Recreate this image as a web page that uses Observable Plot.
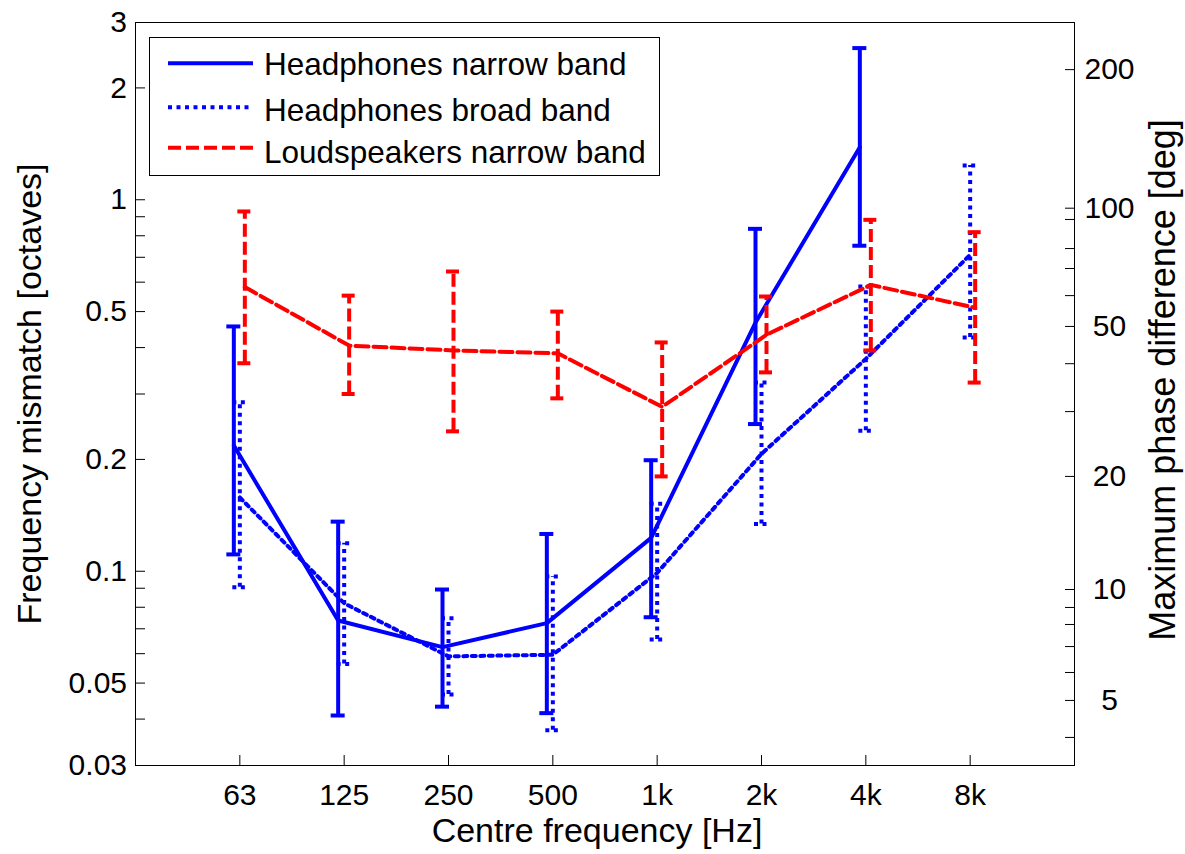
<!DOCTYPE html>
<html><head><meta charset="utf-8">
<script src="https://cdn.jsdelivr.net/npm/d3@7"></script>
<script src="https://cdn.jsdelivr.net/npm/@observablehq/plot@0.6"></script>
<style>
html,body{margin:0;padding:0;background:#fff;}
#wrap{position:relative;width:1185px;height:854px;font-family:"Liberation Sans",Arial,sans-serif;}
#legend{position:absolute;left:149px;top:37px;width:511px;height:139px;box-sizing:border-box;border:1px solid #000;background:#fff;}
</style></head><body><div id="wrap"></div>
<script>
// Categories (centre frequencies)
const freqLabels = ["63", "125", "250", "500", "1k", "2k", "4k", "8k"];

// Headphones narrow band (solid blue)
const hpNarrow   = [0.218, 0.0737, 0.0625, 0.0725, 0.123, 0.467, 1.385, null];
const hpNarrowLo = [0.111, 0.0409, 0.0432, 0.0415, 0.0752, 0.249, 0.752, null];
const hpNarrowHi = [0.456, 0.136, 0.0893, 0.126, 0.199, 0.835, 2.56, null];

// Headphones broad band (dotted blue)
const hpBroad   = [0.158, 0.082, 0.059, 0.0596, 0.099, 0.207, 0.373, 0.711];
const hpBroadLo = [0.0906, 0.0563, 0.0466, 0.0373, 0.0655, 0.134, 0.239, 0.426];
const hpBroadHi = [0.285, 0.119, 0.0747, 0.0968, 0.152, 0.322, 0.584, 1.237];

// Loudspeakers narrow band (dashed red)
const lsNarrow   = [0.582, 0.405, 0.393, 0.386, 0.277, 0.433, 0.590, 0.512];
const lsNarrowLo = [0.363, 0.300, 0.238, 0.292, 0.180, 0.343, 0.393, 0.322];
const lsNarrowHi = [0.930, 0.552, 0.641, 0.500, 0.413, 0.549, 0.883, 0.818];

// Left axis ticks (octaves)
const yMajorTicks = [0.03, 0.05, 0.1, 0.2, 0.5, 1, 2, 3];
const yMinorTicks = [0.04, 0.06, 0.07, 0.08, 0.09, 0.3, 0.4, 0.6, 0.7, 0.8, 0.9];

// Right axis ticks: phase labels [deg] and their position on the octave scale
const phaseLabels       = [5, 10, 20, 50, 100, 200];
const phaseTickOctaves  = [0.0449, 0.0893, 0.18, 0.456, 0.949, 2.24];
const phaseMinorOctaves = [0.0357, 0.0534, 0.0627, 0.0719, 0.0799, 0.269, 0.362, 0.552, 0.653, 0.739, 0.885];

const seriesNames = ["Headphones narrow band", "Headphones broad band", "Loudspeakers narrow band"];

// ---- layout / style ----
const W = 1185, H = 854, mL = 135, mR = 111, mT = 22, mB = 89;
const xDomain = [-1, 8];
const pxPerIdx = (W - mL - mR) / (xDomain[1] - xDomain[0]);
const capHalf = 7 / pxPerIdx;
const FONT = "'Liberation Sans', Arial, sans-serif";

const series = [
  {name: seriesNames[0], mid: hpNarrow, lo: hpNarrowLo, hi: hpNarrowHi, color: "#0000ff", dash: null, dx: -6},
  {name: seriesNames[1], mid: hpBroad, lo: hpBroadLo, hi: hpBroadHi, color: "#0000ff", dash: "4,4.5", dx: 0},
  {name: seriesNames[2], mid: lsNarrow, lo: lsNarrowLo, hi: lsNarrowHi, color: "#ff0000", dash: "13,5", dx: 5}
];

function rows(s) {
  return freqLabels.map((f, i) => ({i, f, y: s.mid[i], lo: s.lo[i], hi: s.hi[i]})).filter(d => d.y != null);
}

const marks = [];
for (const s of series) {
  const d = rows(s);
  const common = {stroke: s.color, strokeWidth: 4, strokeDasharray: s.dash, dx: s.dx};
  marks.push(Plot.ruleX(d, {x: "i", y1: "lo", y2: "hi", ...common}));
  marks.push(Plot.ruleY(d, {y: "lo", x1: r => r.i - capHalf, x2: r => r.i + capHalf, ...common}));
  marks.push(Plot.ruleY(d, {y: "hi", x1: r => r.i - capHalf, x2: r => r.i + capHalf, ...common}));
  marks.push(Plot.line(d, {x: "i", y: "y", ...common}));
}

const phaseMap = new Map(phaseTickOctaves.map((o, k) => [o, String(phaseLabels[k])]));

marks.push(
  Plot.frame({stroke: "#000", strokeWidth: 1}),
  Plot.axisX(d3.range(freqLabels.length), {anchor: "bottom", tickSize: -10, tickPadding: 28, tickFormat: i => freqLabels[i], fontSize: 30, label: null}),
  Plot.axisY(yMajorTicks, {anchor: "left", tickSize: -10, tickPadding: 18.5, tickFormat: d => String(d), fontSize: 30, label: null}),
  Plot.axisY(yMinorTicks, {anchor: "left", tickSize: -10, fill: "none", label: null}),
  Plot.axisY(phaseTickOctaves, {anchor: "right", tickSize: -10, tickPadding: 45, textAnchor: "middle", tickFormat: d => phaseMap.get(d), fontSize: 30, label: null}),
  Plot.axisY(phaseMinorOctaves, {anchor: "right", tickSize: -10, fill: "none", label: null}),
  Plot.text(["Frequency mismatch [octaves]"], {text: d => d, frameAnchor: "left", dx: -105, rotate: -90, fontSize: 34, textAnchor: "middle", lineAnchor: "middle"}),
  Plot.text(["Maximum phase difference [deg]"], {text: d => d, frameAnchor: "right", dx: 89, dy: -14, rotate: -90, fontSize: 36, textAnchor: "middle", lineAnchor: "middle"}),
  Plot.text(["Centre frequency [Hz]"], {text: d => d, frameAnchor: "bottom", dx: -8, dy: 66, fontSize: 34, textAnchor: "middle", lineAnchor: "middle"})
);

const chart = Plot.plot({
  width: W, height: H,
  marginLeft: mL, marginRight: mR, marginTop: mT, marginBottom: mB,
  x: {type: "linear", domain: xDomain},
  y: {type: "log", domain: [0.03, 3]},
  style: {fontFamily: FONT, fontSize: "30px", color: "#000", background: "#fff"},
  marks
});

const wrap = document.getElementById("wrap");
wrap.appendChild(chart);

// Legend
const leg = document.createElement("div");
leg.id = "legend";
wrap.appendChild(leg);
const lsvg = d3.select(leg).append("svg").attr("width", 509).attr("height", 137).style("display", "block");
const rowLineY = [25.3, 69.3, 109.7];
const rowTextY = [37, 82.7, 125.3];
series.forEach((s, k) => {
  lsvg.append("line").attr("x1", 18).attr("x2", 103).attr("y1", rowLineY[k]).attr("y2", rowLineY[k])
    .attr("stroke", s.color).attr("stroke-width", 4).attr("stroke-dasharray", s.dash);
  lsvg.append("text").attr("x", 114).attr("y", rowTextY[k]).attr("font-size", 31.5)
    .attr("font-family", FONT).attr("fill", "#000").text(s.name);
});
</script>
</body></html>
